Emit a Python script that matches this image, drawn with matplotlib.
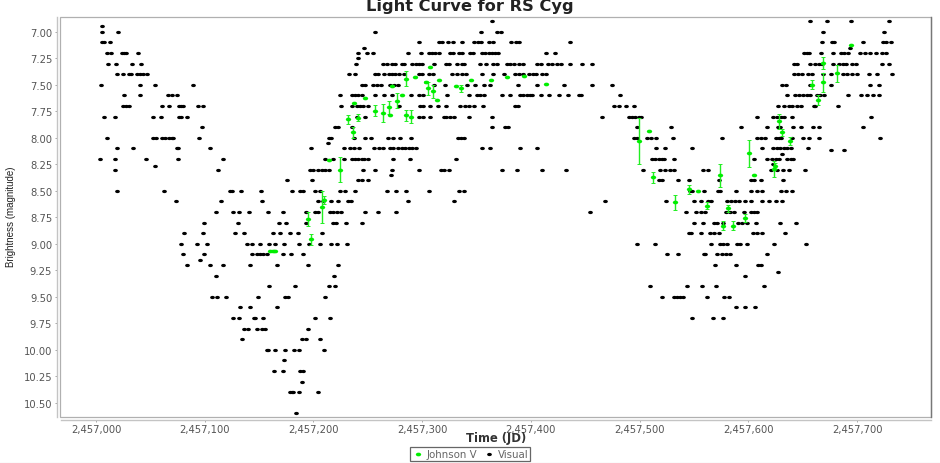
import matplotlib
matplotlib.use("Agg")
import matplotlib.pyplot as plt
from matplotlib.markers import MarkerStyle
from matplotlib.patches import Rectangle
from matplotlib.transforms import Affine2D

base_jd = 2457000

# visual estimates, one list per magnitude row, days after base_jd
v690 = [364, 656.7, 672.7, 694, 729.5]
v695 = [5.8]
v700 = [5.8, 20, 257, 354, 368.7, 372.7, 668.4, 725]
v710 = [5.8, 7.7, 12.9, 296.6, 315.7, 318, 324, 328, 337, 348, 351, 354, 361, 365, 382, 386, 389.4,
        435.6, 667.8, 677, 679, 705.8, 724, 727, 731]
v715 = [246.3, 693.5]
v720 = [10.4, 13.5, 24, 25.8, 27.6, 39, 241.4, 249, 255, 286.5, 299, 305.8, 308.9, 312, 315, 325.8, 328,
        333.5, 336.5, 343.6, 347, 355, 358, 361, 364, 367, 370, 413.5, 422.3, 651, 654, 656, 667, 678,
        685, 688, 692, 702.6, 707, 711.7, 717.5, 723, 727]
v725 = [241.4]
v730 = [11, 18, 32.8, 41.7, 239, 263.5, 267.5, 272, 275, 281, 283.7, 291, 294, 297, 300, 311, 322, 325,
        332, 336.7, 338.6, 353, 359, 365, 369, 378, 381, 384, 389, 393, 405.5, 409.5, 416, 419, 424,
        427.7, 435.6, 447, 456.6, 641.7, 644.8, 657, 661, 665, 668, 678, 683.2, 687, 690, 695.4, 699.4,
        723, 729.5]
v740 = [19, 25, 30, 32, 37.4, 40.5, 43.6, 46.6, 232.8, 238.4, 256.8, 259, 264.5, 269, 272, 275, 279, 283,
        296.6, 300, 305.8, 310, 327.3, 332, 336.7, 340.6, 355, 365, 375, 385, 388.8, 393, 398, 402, 405,
        410, 413.9, 642, 645.5, 649.5, 655, 659, 669, 676, 687, 691, 695, 700, 711, 718, 732]
v750 = [5, 40, 54, 89.6, 244.5, 247.5, 255, 258.8, 262, 270.6, 273.7, 278, 310.5, 321, 341, 349, 356.5,
        362, 387.7, 405.5, 430, 456.6, 475, 631, 634.5, 657, 676, 712, 720]
v760 = [26, 40, 66.6, 69.6, 74, 224, 235, 238, 241, 244.5, 256.8, 264.5, 272, 290, 296.6, 301, 323, 342.7,
        350.5, 353.5, 356.5, 373.3, 380.4, 390, 393, 396.4, 399.5, 401, 409, 416.9, 425.5, 434, 443.9,
        446, 481.6, 636, 643.2, 646.3, 650.3, 654, 657, 663, 666, 670, 692, 703.6, 709, 715, 720]
v770 = [25, 27.6, 30.4, 61, 67, 76, 78, 80, 93.6, 98.5, 225.5, 235, 240, 243, 246, 250.6, 279, 298, 301,
        306.8, 314.4, 322, 335, 339.6, 342.7, 348, 355.5, 385.6, 387.7, 476.4, 481, 487.7, 494.7, 627,
        633, 637, 640, 645, 648, 660, 661, 682]
v780 = [7, 17, 52, 60, 76, 78, 84, 240, 247.5, 297.5, 300.6, 307, 320, 322, 326, 329, 342.7, 364, 465.8,
        490, 493, 496, 499, 501, 608, 623, 626, 629.6, 632.7, 640, 713]
v790 = [97.5, 220, 223, 235, 364, 376, 379, 497.5, 529, 593, 617, 627.6, 629, 641, 648, 659.6, 665, 705]
v800 = [10, 52, 55, 61, 63.5, 67.5, 69.6, 71, 94.5, 214.7, 216, 237.4, 247.5, 253, 268.4, 272.7, 280,
        289.6, 332.5, 335.6, 338.6, 494.5, 497.5, 506.7, 510.4, 515, 531, 576, 608, 611.7, 615.6, 625,
        628, 630, 639.7, 650, 656, 665.4, 721.5]
v805 = [213]
v810 = [19, 34, 74, 75, 104.6, 198, 228, 233.8, 237.4, 242, 256, 260, 264, 270, 273, 277.5, 281, 284.4,
        287.5, 290.5, 294.5, 355, 362.6, 390, 406, 515, 523, 548, 613, 623, 626, 629.4, 632.5, 635.6,
        639, 654.6]
v812 = [676.4, 688.3]
v815 = [631]
v820 = [4, 17.5, 46, 75.8, 117, 211, 217.5, 228, 235, 238, 241, 244.5, 246.6, 250.6, 273, 289, 331, 511,
        514, 517.5, 520.6, 522, 532, 605, 617, 621.8, 625, 628, 635.6, 639, 640.8]
v825 = [622.6]
v827 = [54]
v830 = [17.8, 112, 197, 200, 204.6, 207.7, 210.7, 214.7, 245.4, 256.8, 272, 296.6, 317, 320.5, 325, 373,
        387, 410, 432.7, 503, 518.4, 523, 528, 532, 558, 562.6, 621, 626.7, 632, 637.2, 652]
v835 = [271.5]
v840 = [176, 198.5, 241.4, 244.5, 250.6, 518, 521, 535, 545, 573, 602.5, 605, 611.6, 632]
v850 = [19, 62.6, 123, 125, 133.4, 151.5, 180, 187.7, 190, 201, 206, 224, 229, 238, 268, 275.5, 285.3,
        306.4, 333.5, 338.6, 546.5, 548, 559.5, 572, 574, 588.7, 602.8, 608, 612.6, 630, 634.7, 640]
v860 = [73.6, 114.7, 153, 204.6, 209, 216, 223, 232, 234.7, 286.5, 329, 468.4, 524, 550, 556, 563, 566,
        580.5, 584, 588, 591, 597, 602.4, 613, 619, 625, 631]
v870 = [110, 126.4, 131.6, 141, 158.6, 171.5, 193, 201, 204.6, 215, 218, 222, 225.5, 247.5, 259, 276, 454,
        543, 552, 556.6, 560, 579.8, 583.5, 587, 596.3, 602, 605, 608]
v880 = [99.7, 130.7, 168, 175, 193, 218.4, 220.6, 230, 245, 550, 558, 568, 571, 577, 590.4, 594, 598.8,
        607, 629, 644]
v890 = [81, 98.5, 128, 136, 162.6, 169, 178, 186, 207.7, 545.7, 547, 556, 564.5, 568, 573, 604, 608, 612.5,
        633.5]
v900 = [78, 93, 102.5, 138.7, 143.9, 151, 159, 165, 173, 187, 196, 206, 216, 221.5, 231, 498, 513.8, 566,
        574, 577, 580, 589.6, 592.6, 599, 624, 653]
v910 = [80, 99, 143.6, 147.9, 151, 154, 157.7, 172.4, 179.4, 190.5, 525, 535, 559, 560.5, 571.5, 575.7,
        579, 583.5, 617.5]
v915 = [95.4]
v920 = [84, 104.6, 117, 141.7, 166.6, 195.4, 223, 569.7, 589, 608.6, 611.7]
v927 = [627]
v930 = [110, 219, 597.3]
v940 = [159, 183, 214.4, 220, 509.5, 543.6, 557.3, 570.5, 614]
v950 = [106.4, 111.7, 119.3, 149.4, 174, 176.4, 211, 520.6, 532, 534.4, 537, 539.6, 562, 577.6, 582]
v960 = [132, 142, 166, 589, 597, 606]
v970 = [126.4, 131.6, 145.4, 146.6, 154, 201, 215, 548.5, 567.4, 576.4]
v980 = [136, 139.6, 148.5, 152.8, 155.8, 195]
v990 = [134, 189, 193, 206.4]
v1000 = [157.4, 158.6, 165, 174, 182, 187, 210]
v1010 = [173]
v1020 = [164, 172, 187.7, 190.8]
v1030 = [189]
v1040 = [178, 180, 181.6, 186.5, 204]
v1060 = [184]

visual_rows = [(6.90, v690), (6.95, v695), (7.00, v700), (7.10, v710), (7.15, v715), (7.20, v720),
               (7.25, v725), (7.30, v730), (7.40, v740), (7.50, v750), (7.60, v760), (7.70, v770),
               (7.80, v780), (7.90, v790), (8.00, v800), (8.05, v805), (8.10, v810), (8.12, v812),
               (8.15, v815), (8.20, v820), (8.25, v825), (8.27, v827), (8.30, v830), (8.35, v835),
               (8.40, v840), (8.50, v850), (8.60, v860), (8.70, v870), (8.80, v880), (8.90, v890),
               (9.00, v900), (9.10, v910), (9.15, v915), (9.20, v920), (9.27, v927), (9.30, v930),
               (9.40, v940), (9.50, v950), (9.60, v960), (9.70, v970), (9.80, v980), (9.90, v990),
               (10.00, v1000), (10.10, v1010), (10.20, v1020), (10.30, v1030), (10.40, v1040),
               (10.60, v1060)]

# Johnson V
jv_days = [160, 163, 164.7, 195.4, 197.5, 207.4, 210, 214.7, 224.5, 231.6, 236, 237.4, 241, 247.5, 256.4,
           264.4, 269.6, 270.3, 272.4, 276.4, 281.6, 285.3, 285.3, 289.3, 293.3, 303.7, 305.5, 307.4,
           309.5, 314, 315.3, 331.3, 335.3, 344.5, 363.5, 377.6, 393.6, 413.5, 499.4, 508.6, 512.3,
           532.5, 545.7, 553.7, 561.7, 573.6, 576.4, 581.3, 585.6, 596.7, 600.7, 605.5, 623.3, 624.3,
           628.5, 630.5, 638.4, 658.3, 664.4, 668.4, 668.4, 681.6, 694.5]
jv_mags = [9.07, 9.07, 9.07, 8.77, 8.96, 8.657, 8.59, 8.21, 8.30, 7.827, 7.95, 7.67, 7.81, 7.625, 7.745,
           7.77, 7.714, 7.786, 7.51, 7.65, 7.60, 7.443, 7.79, 7.80, 7.43, 7.478, 7.535, 7.333,
           7.563, 7.64, 7.453, 7.51, 7.535, 7.46, 7.46, 7.43, 7.42, 7.49, 8.03, 7.934, 8.375,
           8.61, 8.487, 8.503, 8.64, 8.355, 8.83, 8.667, 8.83, 8.755, 8.148, 8.35, 8.295, 8.265,
           7.846, 7.95, 8.03, 7.50, 7.645, 7.478, 7.296, 7.39, 7.126]
jv_errs = [0, 0, 0, 0.065, 0.05, 0.15, 0.04, 0, 0.115, 0.045, 0.05, 0, 0.03, 0, 0.05,
           0.085, 0.06, 0, 0, 0.07, 0, 0.07, 0.055, 0.06, 0, 0.01, 0.06, 0,
           0.06, 0, 0, 0, 0.03, 0, 0, 0, 0, 0, 0.215, 0, 0.05,
           0.07, 0.04, 0, 0.03, 0.11, 0.04, 0.03, 0.04, 0.04, 0.13, 0, 0.08, 0.03,
           0.07, 0.03, 0.04, 0.04, 0.05, 0.09, 0.055, 0.08, 0]

xticks = [2457000, 2457100, 2457200, 2457300, 2457400, 2457500, 2457600, 2457700]
yticks = [7.00, 7.25, 7.50, 7.75, 8.00, 8.25, 8.50, 8.75, 9.00, 9.25, 9.50, 9.75, 10.00, 10.25, 10.50]

plt.rcParams["font.family"] = "DejaVu Sans"

fig = plt.figure(figsize=(9.4, 4.64), dpi=100)
ax = fig.add_axes([60.5 / 940, 1 - 417.7 / 464, (931 - 60.5) / 940, (417.7 - 18.3) / 464])

wide_dot = MarkerStyle("o", transform=Affine2D().scale(1.45, 1.0))

visual_x = []
visual_y = []
for mag, days in visual_rows:
    for d in days:
        visual_x.append(base_jd + d)
        visual_y.append(mag)
ax.scatter(visual_x, visual_y, marker=wide_dot, s=5.5, color="black", linewidths=0, zorder=3, label="Visual")

jv_x = [base_jd + d for d in jv_days]
ax.errorbar(jv_x, jv_mags, yerr=jv_errs, fmt="none", ecolor="#22ee22", elinewidth=1.0, capsize=1.5,
            capthick=0.7, zorder=4)
ax.scatter(jv_x, jv_mags, marker=wide_dot, s=7, color="#00ee00", linewidths=0, zorder=5, label="Johnson V")

ax.set_xlim(2456967.3, 2457768)
ax.set_ylim(10.632, 6.864)

ax.set_xticks(xticks)
ax.set_xticklabels([f"{t:,}" for t in xticks])
ax.set_yticks(yticks)
ax.set_yticklabels([f"{t:.2f}" for t in yticks])
ax.tick_params(axis="x", length=1.5, width=0.6, color="#999999", pad=1, labelsize=7.2, labelcolor="#555555")
ax.tick_params(axis="y", length=1.5, width=0.6, color="#999999", pad=2, labelsize=7.2, labelcolor="#555555")

# plot frame, then the axis lines sit just outside it
for side in ["top", "right"]:
    ax.spines[side].set_visible(False)
for side in ["left", "bottom"]:
    ax.spines[side].set_position(("outward", 2.5))
    ax.spines[side].set_color("#c4c4c4")
    ax.spines[side].set_linewidth(1.0)
ax.add_patch(Rectangle((0, 0), 1, 1, transform=ax.transAxes, fill=False, edgecolor="#b0b0b0", linewidth=0.9,
                       zorder=6, clip_on=False))
ax.plot([1, 1], [0, 1], transform=ax.transAxes, color="#777777", linewidth=1.0, zorder=7, clip_on=False)

fig.text(470 / 940, 1 - 6.5 / 464, "Light Curve for RS Cyg", fontsize=11.7, fontweight="bold", color="#222222",
         ha="center", va="center")
fig.text(496 / 940, 1 - 439 / 464, "Time (JD)", fontsize=8.4, fontweight="bold", color="#333333",
         ha="center", va="center")
fig.text(11.5 / 940, 1 - 217 / 464, "Brightness (magnitude)", fontsize=7.0, color="#222222", rotation=90,
         ha="center", va="center", family="Liberation Sans")

handles, labels = ax.get_legend_handles_labels()
leg = fig.legend(handles[::-1], labels[::-1], ncol=2, fontsize=7.4, loc="center", bbox_to_anchor=(470 / 940, 1 - 455 / 464),
                 fancybox=False, edgecolor="#666666", framealpha=1, borderpad=0.2, handletextpad=0.2,
                 columnspacing=0.6, labelcolor="#666666", handlelength=1.2)
leg.get_frame().set_linewidth(0.9)

fig.add_artist(plt.Line2D([0, 1], [0.5 / 464, 0.5 / 464], color="#eeeeee", linewidth=1))

fig.savefig("out.png", dpi=100)
